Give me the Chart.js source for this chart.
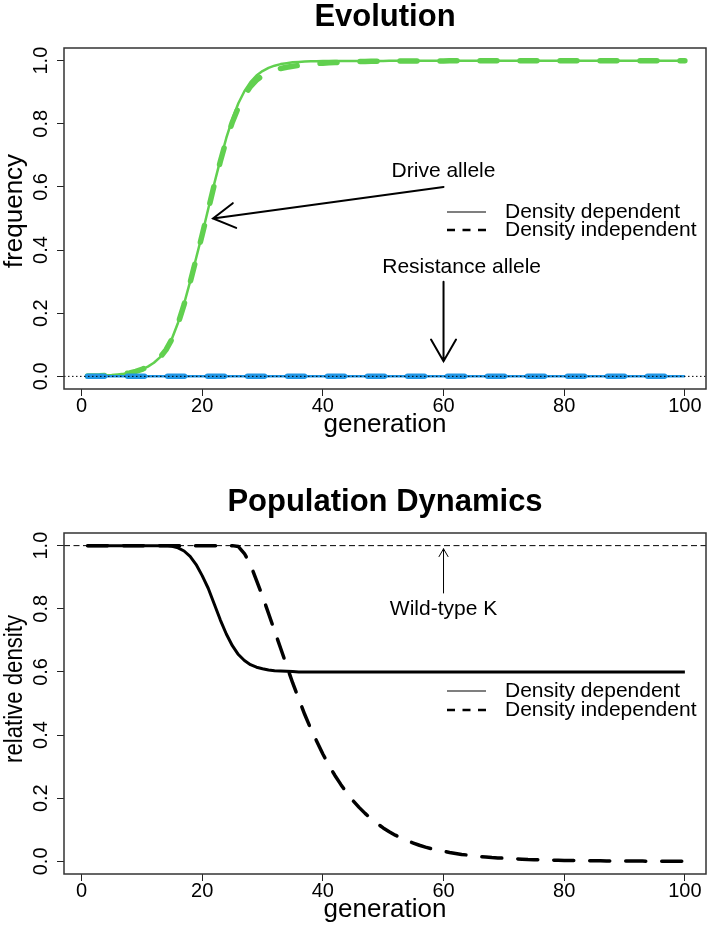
<!DOCTYPE html>
<html>
<head>
<meta charset="utf-8">
<title>Evolution and population dynamics</title>
<script src="https://cdn.jsdelivr.net/npm/chart.js@4.4.1/dist/chart.umd.min.js"></script>
<style>
  html, body { margin: 0; padding: 0; background: #fff; }
  canvas { display: block; }
</style>
</head>
<body>
<canvas id="evolutionChart" width="709" height="463"></canvas>
<canvas id="populationChart" width="709" height="463"></canvas>
<script>
// ---- data ----
const generations = [
  1, 2, 3, 4, 5, 6, 7, 8, 9, 10, 11, 12, 13, 14, 15, 16, 17, 18, 19, 20,
  21, 22, 23, 24, 25, 26, 27, 28, 29, 30, 31, 32, 33, 34, 35, 36, 37, 38, 39, 40,
  41, 42, 43, 44, 45, 46, 47, 48, 49, 50, 51, 52, 53, 54, 55, 56, 57, 58, 59, 60,
  61, 62, 63, 64, 65, 66, 67, 68, 69, 70, 71, 72, 73, 74, 75, 76, 77, 78, 79, 80,
  81, 82, 83, 84, 85, 86, 87, 88, 89, 90, 91, 92, 93, 94, 95, 96, 97, 98, 99, 100,
];

// drive allele frequency
const driveDependent = [
  0.001, 0.0015, 0.002, 0.003, 0.004, 0.006, 0.008, 0.011, 0.016, 0.022,
  0.031, 0.043, 0.06, 0.085, 0.12, 0.17, 0.23, 0.3, 0.375, 0.45,
  0.53, 0.61, 0.685, 0.755, 0.815, 0.865, 0.903, 0.932, 0.953, 0.967,
  0.977, 0.984, 0.989, 0.992, 0.995, 0.996, 0.997, 0.998, 0.998, 0.999,
  0.999, 0.999, 0.999, 0.999, 0.999, 0.999, 0.999, 0.999, 0.999, 0.999,
  1, 1, 1, 1, 1, 1, 1, 1, 1, 1,
  1, 1, 1, 1, 1, 1, 1, 1, 1, 1,
  1, 1, 1, 1, 1, 1, 1, 1, 1, 1,
  1, 1, 1, 1, 1, 1, 1, 1, 1, 1,
  1, 1, 1, 1, 1, 1, 1, 1, 1, 1,
];
const driveIndependent = [
  0.001, 0.0015, 0.002, 0.003, 0.004, 0.006, 0.008, 0.011, 0.016, 0.022,
  0.031, 0.043, 0.06, 0.084, 0.118, 0.167, 0.227, 0.297, 0.372, 0.448,
  0.527, 0.606, 0.68, 0.748, 0.805, 0.852, 0.89, 0.918, 0.938, 0.953,
  0.963, 0.97, 0.975, 0.979, 0.982, 0.985, 0.987, 0.989, 0.991, 0.992,
  0.993, 0.994, 0.995, 0.996, 0.996, 0.997, 0.997, 0.998, 0.998, 0.998,
  0.999, 0.999, 0.999, 0.999, 0.999, 0.999, 0.999, 0.999, 0.999, 0.999,
  1, 1, 1, 1, 1, 1, 1, 1, 1, 1,
  1, 1, 1, 1, 1, 1, 1, 1, 1, 1,
  1, 1, 1, 1, 1, 1, 1, 1, 1, 1,
  1, 1, 1, 1, 1, 1, 1, 1, 1, 1,
];

// resistance allele frequency (stays at zero)
const resistanceDependent = [
  0, 0, 0, 0, 0, 0, 0, 0, 0, 0, 0, 0, 0, 0, 0, 0, 0, 0, 0, 0,
  0, 0, 0, 0, 0, 0, 0, 0, 0, 0, 0, 0, 0, 0, 0, 0, 0, 0, 0, 0,
  0, 0, 0, 0, 0, 0, 0, 0, 0, 0, 0, 0, 0, 0, 0, 0, 0, 0, 0, 0,
  0, 0, 0, 0, 0, 0, 0, 0, 0, 0, 0, 0, 0, 0, 0, 0, 0, 0, 0, 0,
  0, 0, 0, 0, 0, 0, 0, 0, 0, 0, 0, 0, 0, 0, 0, 0, 0, 0, 0, 0,
];
const resistanceIndependent = [
  0, 0, 0, 0, 0, 0, 0, 0, 0, 0, 0, 0, 0, 0, 0, 0, 0, 0, 0, 0,
  0, 0, 0, 0, 0, 0, 0, 0, 0, 0, 0, 0, 0, 0, 0, 0, 0, 0, 0, 0,
  0, 0, 0, 0, 0, 0, 0, 0, 0, 0, 0, 0, 0, 0, 0, 0, 0, 0, 0, 0,
  0, 0, 0, 0, 0, 0, 0, 0, 0, 0, 0, 0, 0, 0, 0, 0, 0, 0, 0, 0,
  0, 0, 0, 0, 0, 0, 0, 0, 0, 0, 0, 0, 0, 0, 0, 0, 0, 0, 0, 0,
];

// relative population density
const densityDependent = [
  1, 1, 1, 1, 1, 1, 1, 1, 1, 1,
  1, 1, 1, 1, 0.998, 0.993, 0.983, 0.966, 0.94, 0.905,
  0.865, 0.815, 0.765, 0.72, 0.683, 0.655, 0.636, 0.623, 0.615, 0.61,
  0.606, 0.604, 0.603, 0.602, 0.601, 0.6, 0.6, 0.6, 0.6, 0.6,
  0.6, 0.6, 0.6, 0.6, 0.6, 0.6, 0.6, 0.6, 0.6, 0.6,
  0.6, 0.6, 0.6, 0.6, 0.6, 0.6, 0.6, 0.6, 0.6, 0.6,
  0.6, 0.6, 0.6, 0.6, 0.6, 0.6, 0.6, 0.6, 0.6, 0.6,
  0.6, 0.6, 0.6, 0.6, 0.6, 0.6, 0.6, 0.6, 0.6, 0.6,
  0.6, 0.6, 0.6, 0.6, 0.6, 0.6, 0.6, 0.6, 0.6, 0.6,
  0.6, 0.6, 0.6, 0.6, 0.6, 0.6, 0.6, 0.6, 0.6, 0.6,
];
const densityIndependent = [
  1, 1, 1, 1, 1, 1, 1, 1, 1, 1,
  1, 1, 1, 1, 1, 1, 1, 1, 1, 1,
  1, 1, 1, 1, 1, 0.997, 0.975, 0.94, 0.89, 0.84,
  0.785, 0.73, 0.675, 0.62, 0.565, 0.515, 0.465, 0.42, 0.38, 0.34,
  0.305, 0.272, 0.243, 0.216, 0.192, 0.171, 0.152, 0.135, 0.12, 0.106,
  0.094, 0.083, 0.074, 0.065, 0.058, 0.051, 0.045, 0.04, 0.036, 0.032,
  0.028, 0.025, 0.022, 0.02, 0.017, 0.015, 0.014, 0.012, 0.011, 0.01,
  0.009, 0.008, 0.007, 0.006, 0.0055, 0.005, 0.0045, 0.004, 0.0035, 0.003,
  0.0028, 0.0025, 0.0023, 0.002, 0.0018, 0.0016, 0.0015, 0.0013, 0.0012, 0.0011,
  0.001, 0.0009, 0.0008, 0.0007, 0.0006, 0.0006, 0.0005, 0.0005, 0.0004, 0.0004,
];

const xTicks = [0, 20, 40, 60, 80, 100];
const yTicks = [0, 0.2, 0.4, 0.6, 0.8, 1.0];
const legendLabels = ["Density dependent", "Density independent"];

const FONT = "'Liberation Sans', Arial, Helvetica, sans-serif";
const GREEN = "#61D04F";
const BLUE = "#2297E6";

const toPoints = (values) => generations.map((g, i) => ({ x: g, y: values[i] }));

// arrow with open head at (x1, y1), like R's arrows()
function drawArrow(ctx, x0, y0, x1, y1, headLen, width) {
  const ang = Math.atan2(y1 - y0, x1 - x0);
  const spread = Math.PI / 6;
  ctx.save();
  ctx.lineWidth = width;
  ctx.strokeStyle = "#000";
  ctx.lineCap = "round";
  ctx.beginPath();
  ctx.moveTo(x0, y0);
  ctx.lineTo(x1, y1);
  ctx.moveTo(x1 - headLen * Math.cos(ang - spread), y1 - headLen * Math.sin(ang - spread));
  ctx.lineTo(x1, y1);
  ctx.lineTo(x1 - headLen * Math.cos(ang + spread), y1 - headLen * Math.sin(ang + spread));
  ctx.stroke();
  ctx.restore();
}

// box, titles, rotated y labels, notes and legend drawn the way base R does
const rPlotPlugin = {
  id: "rPlot",
  afterDatasetsDraw(chart, args, opts) {
    const { ctx, chartArea: a, scales } = chart;
    const x = scales.x;
    const y = scales.y;

    if (opts.refLine) {
      const py = y.getPixelForValue(opts.refLine.value);
      ctx.save();
      ctx.strokeStyle = "#000";
      ctx.lineWidth = opts.refLine.width;
      ctx.setLineDash(opts.refLine.dash);
      ctx.beginPath();
      ctx.moveTo(a.left, py);
      ctx.lineTo(a.right, py);
      ctx.stroke();
      ctx.restore();
    }

    (opts.arrows || []).forEach((ar) => {
      drawArrow(
        ctx,
        x.getPixelForValue(ar.from[0]), y.getPixelForValue(ar.from[1]),
        x.getPixelForValue(ar.to[0]), y.getPixelForValue(ar.to[1]),
        ar.head, ar.width
      );
    });

    ctx.save();
    ctx.fillStyle = "#000";
    ctx.font = "21px " + FONT;
    ctx.textAlign = "center";
    ctx.textBaseline = "middle";
    (opts.notes || []).forEach((n) => {
      ctx.fillText(n.text, x.getPixelForValue(n.at[0]), y.getPixelForValue(n.at[1]));
    });
    ctx.restore();
  },
  afterDraw(chart, args, opts) {
    const { ctx, chartArea: a, scales } = chart;
    const y = scales.y;
    const cx = (a.left + a.right) / 2;

    ctx.save();
    // plot box
    ctx.strokeStyle = "#333";
    ctx.lineWidth = 1.5;
    ctx.strokeRect(a.left, a.top, a.right - a.left, a.bottom - a.top);

    ctx.fillStyle = "#000";
    ctx.textAlign = "center";
    ctx.textBaseline = "middle";

    // main title
    ctx.font = "bold 31px " + FONT;
    ctx.fillText(opts.title, cx, opts.titleY);

    // x axis title
    ctx.font = "26px " + FONT;
    ctx.fillText("generation", cx, a.bottom + 36);

    // y axis title (squeezed to the length it has in the figure)
    ctx.save();
    ctx.translate(15, opts.yTitleY);
    ctx.rotate(-Math.PI / 2);
    const w = ctx.measureText(opts.yTitle).width;
    if (opts.yTitleLength && w > opts.yTitleLength) {
      ctx.scale(opts.yTitleLength / w, 1);
    }
    ctx.fillText(opts.yTitle, 0, 0);
    ctx.restore();

    // y tick labels, parallel to the axis
    ctx.font = "20px " + FONT;
    y.ticks.forEach((t) => {
      ctx.save();
      ctx.translate(41.5, y.getPixelForValue(t.value));
      ctx.rotate(-Math.PI / 2);
      ctx.fillText(t.value.toFixed(1), 0, 0);
      ctx.restore();
    });

    // legend
    ctx.font = "21px " + FONT;
    ctx.textAlign = "left";
    opts.legend.forEach((item, i) => {
      const ly = opts.legendY[i];
      ctx.save();
      ctx.strokeStyle = item.color;
      ctx.lineWidth = item.width;
      ctx.setLineDash(item.dash);
      ctx.beginPath();
      ctx.moveTo(447, ly);
      ctx.lineTo(486, ly);
      ctx.stroke();
      ctx.restore();
      ctx.fillText(legendLabels[i], 505, ly);
    });
    ctx.restore();
  },
};

function makeScales(xAxisHeight) {
  return {
    x: {
      type: "linear",
      min: -2.9,
      max: 103.5,
      afterBuildTicks: (scale) => {
        scale.ticks = xTicks.map((v) => ({ value: v }));
      },
      afterFit: (scale) => {
        scale.height = xAxisHeight;
      },
      border: { display: false },
      grid: { drawOnChartArea: false, drawTicks: true, tickLength: 7, color: "#222", lineWidth: 1 },
      ticks: {
        color: "#000",
        padding: 0,
        maxRotation: 0,
        autoSkip: false,
        font: { family: FONT, size: 20, lineHeight: 1 },
      },
    },
    y: {
      type: "linear",
      min: -0.04,
      max: 1.04,
      afterBuildTicks: (scale) => {
        scale.ticks = yTicks.map((v) => ({ value: v }));
      },
      afterFit: (scale) => {
        scale.width = 64;
      },
      border: { display: false },
      grid: { drawOnChartArea: false, drawTicks: true, tickLength: 7, color: "#222", lineWidth: 1 },
      ticks: { display: false },
    },
  };
}

const evolutionChart = new Chart(document.querySelector("#evolutionChart"), {
  type: "line",
  data: {
    datasets: [
      {
        label: "Drive allele, density dependent",
        data: toPoints(driveDependent),
        borderColor: GREEN,
        borderWidth: 2.5,
        order: 2,
      },
      {
        label: "Drive allele, density independent",
        data: toPoints(driveIndependent),
        borderColor: GREEN,
        borderWidth: 5.5,
        borderDash: [17, 23],
        borderCapStyle: "round",
        order: 1,
      },
      {
        label: "Resistance allele, density dependent",
        data: toPoints(resistanceDependent),
        borderColor: BLUE,
        borderWidth: 2.5,
        order: 0,
      },
      {
        label: "Resistance allele, density independent",
        data: toPoints(resistanceIndependent),
        borderColor: BLUE,
        borderWidth: 5.5,
        borderDash: [17, 23],
        borderCapStyle: "round",
        order: -1,
      },
    ],
  },
  options: {
    responsive: false,
    animation: false,
    events: [],
    layout: { padding: { top: 48, right: 3, left: 0, bottom: 0 } },
    elements: { point: { radius: 0 }, line: { tension: 0, borderJoinStyle: "round" } },
    scales: makeScales(74),
    plugins: {
      legend: { display: false },
      tooltip: { enabled: false },
      rPlot: {
        title: "Evolution",
        titleY: 17,
        yTitle: "frequency",
        yTitleY: 211,
        refLine: { value: 0, width: 1, dash: [1.5, 2.5] },
        arrows: [
          { from: [60, 0.6], to: [21.8, 0.5], head: 25, width: 2 },
          { from: [60, 0.3], to: [60, 0.048], head: 25, width: 2 },
        ],
        notes: [
          { text: "Drive allele", at: [60, 0.65] },
          { text: "Resistance allele", at: [63, 0.347] },
        ],
        legend: [
          { color: "#000", width: 1.2, dash: [] },
          { color: "#000", width: 2.5, dash: [8, 7.5] },
        ],
        legendY: [212, 230],
      },
    },
  },
  plugins: [rPlotPlugin],
});

const populationChart = new Chart(document.querySelector("#populationChart"), {
  type: "line",
  data: {
    datasets: [
      {
        label: "Density dependent",
        data: toPoints(densityDependent),
        borderColor: "#000",
        borderWidth: 3,
      },
      {
        label: "Density independent",
        data: toPoints(densityIndependent),
        borderColor: "#000",
        borderWidth: 3.5,
        borderDash: [20, 16],
        borderCapStyle: "round",
      },
    ],
  },
  options: {
    responsive: false,
    animation: false,
    events: [],
    layout: { padding: { top: 70, right: 3, left: 0, bottom: 0 } },
    elements: { point: { radius: 0 }, line: { tension: 0, borderJoinStyle: "round" } },
    scales: makeScales(52),
    plugins: {
      legend: { display: false },
      tooltip: { enabled: false },
      rPlot: {
        title: "Population Dynamics",
        titleY: 39,
        yTitle: "relative density",
        yTitleY: 226,
        yTitleLength: 148,
        refLine: { value: 1, width: 1, dash: [6, 3.5] },
        arrows: [{ from: [60, 0.85], to: [60, 0.99], head: 9, width: 1 }],
        notes: [{ text: "Wild-type K", at: [60, 0.8] }],
        legend: [
          { color: "#555", width: 1.5, dash: [] },
          { color: "#000", width: 2.5, dash: [8, 7.5] },
        ],
        legendY: [228, 247],
      },
    },
  },
  plugins: [rPlotPlugin],
});
</script>
</body>
</html>
